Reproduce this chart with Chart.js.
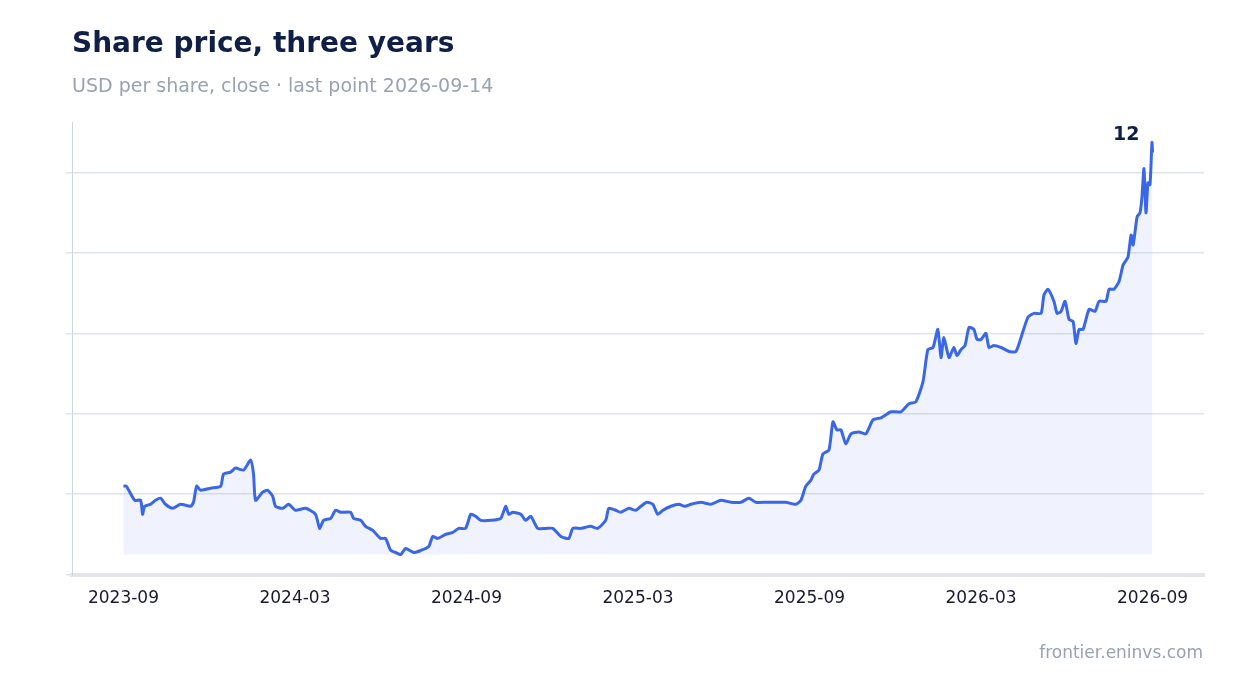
<!DOCTYPE html>
<html><head><meta charset="utf-8">
<script src="https://cdn.jsdelivr.net/npm/chart.js@4"></script>
<style>
html,body{margin:0;padding:0;background:#fff;font-family:"DejaVu Sans",sans-serif;}
#wrap{position:relative;width:1234px;height:693px;}
#c{position:absolute;left:0;top:0;}
#foot{position:absolute;right:31px;top:642px;color:#98a2b3;font-size:17px;}
</style></head><body>
<div id="wrap"><canvas id="c" width="1234" height="693"></canvas><div id="foot">frontier.eninvs.com</div></div>
<script>
// months since 2023-09-01
const months = [0,0.1,0.39,0.6,0.67,0.74,0.95,1.12,1.3,1.47,1.72,2.0,2.35,2.45,2.56,2.7,3.05,3.4,3.5,3.75,3.92,4.2,4.45,4.55,4.62,4.87,5.04,5.22,5.32,5.57,5.78,6.02,6.37,6.72,6.86,7.0,7.25,7.42,7.6,7.95,8.05,8.3,8.47,8.72,9.0,9.17,9.35,9.52,9.7,9.87,10.15,10.4,10.68,10.82,10.99,11.27,11.52,11.73,11.97,12.15,12.32,12.5,12.85,13.2,13.37,13.48,13.62,13.9,14.07,14.25,14.49,14.77,15.02,15.3,15.58,15.72,16.0,16.35,16.59,16.87,16.98,17.22,17.4,17.68,17.92,18.1,18.31,18.52,18.69,18.87,19.15,19.43,19.64,19.85,20.2,20.55,20.9,21.25,21.6,21.88,22.12,22.47,22.82,23.17,23.52,23.7,23.87,24.05,24.15,24.33,24.47,24.68,24.82,24.96,25.1,25.27,25.45,25.73,25.97,26.22,26.5,26.85,27.2,27.48,27.72,27.97,28.14,28.32,28.49,28.6,28.7,28.88,29.05,29.16,29.3,29.44,29.58,29.75,29.86,30.0,30.17,30.28,30.45,30.7,30.98,31.22,31.4,31.64,31.85,32.1,32.2,32.34,32.55,32.66,32.8,32.94,33.08,33.22,33.32,33.43,33.57,33.78,33.99,34.13,34.37,34.48,34.65,34.83,34.97,35.14,35.25,35.32,35.46,35.56,35.63,35.7,35.77,35.84,35.91,35.98,36.0];
const prices = [4.2,4.2,3.85,3.85,3.5,3.7,3.75,3.85,3.9,3.75,3.65,3.75,3.7,3.8,4.2,4.1,4.15,4.2,4.5,4.55,4.65,4.6,4.85,4.5,3.85,4.05,4.1,3.95,3.7,3.65,3.75,3.6,3.65,3.5,3.15,3.35,3.4,3.6,3.55,3.55,3.4,3.35,3.2,3.1,2.9,2.9,2.6,2.55,2.5,2.65,2.55,2.6,2.7,2.95,2.9,3.0,3.05,3.15,3.15,3.5,3.45,3.35,3.35,3.4,3.7,3.5,3.55,3.5,3.35,3.45,3.15,3.15,3.15,2.95,2.9,3.15,3.15,3.2,3.15,3.35,3.65,3.6,3.55,3.65,3.6,3.7,3.8,3.75,3.5,3.6,3.7,3.75,3.7,3.75,3.8,3.75,3.85,3.8,3.8,3.9,3.8,3.8,3.8,3.8,3.75,3.85,4.2,4.35,4.5,4.6,5.0,5.1,5.8,5.6,5.6,5.25,5.5,5.55,5.5,5.85,5.9,6.05,6.05,6.25,6.3,6.8,7.6,7.65,8.1,7.4,7.9,7.4,7.65,7.45,7.6,7.7,8.15,8.1,7.85,7.85,8.0,7.65,7.7,7.65,7.55,7.55,7.9,8.4,8.5,8.5,8.95,9.1,8.8,8.5,8.55,8.8,8.35,8.3,7.75,8.1,8.1,8.6,8.55,8.8,8.8,9.1,9.1,9.3,9.7,9.9,10.45,10.2,10.9,11.0,11.4,12.1,11.0,11.75,11.7,12.75,12.5];
const tickMonths = [0,6,12,18,24,30,36];
const tickLabels = ["2023-09","2024-03","2024-09","2025-03","2025-09","2026-03","2026-09"];
const yTicks = [2,4,6,8,10,12];
const lastLabel = "12";

const pts = months.map((m,i)=>({x:m,y:prices[i]}));
const minP = Math.min(...prices);
const lastLbl = {id:'lastLbl',afterDatasetsDraw(ch){
  const xs=ch.scales.x, ys=ch.scales.y, p=pts[pts.length-1];
  const c=ch.ctx; c.save(); c.font='bold 19px "DejaVu Sans"'; c.fillStyle='#0f1f45';
  c.textAlign='right'; c.textBaseline='bottom';
  c.fillText(lastLabel, xs.getPixelForValue(p.x)-13, ys.getPixelForValue(p.y)-8); c.restore();
}};
new Chart(document.getElementById('c'),{
  type:'line',
  data:{datasets:[{data:pts,borderColor:'#3a66e8',borderWidth:3,pointRadius:0,tension:0.2,
    fill:{value:minP},backgroundColor:'rgba(58,102,232,0.08)'}]},
  options:{responsive:false,animation:false,
    layout:{padding:{left:72,right:30,top:10,bottom:76}},
    plugins:{legend:{display:false},tooltip:{enabled:false},
      title:{display:true,text:'Share price, three years',align:'start',color:'#0f1f45',
        font:{family:'DejaVu Sans',size:28,weight:'bold'},padding:{top:18,bottom:14}},
      subtitle:{display:true,text:'USD per share, close · last point 2026-09-14',align:'start',color:'#98a2b3',
        font:{family:'DejaVu Sans',size:19},padding:{bottom:24}}},
    scales:{
      x:{type:'linear',min:-1.8,max:37.8,
        afterBuildTicks(s){s.ticks=tickMonths.map(v=>({value:v}));},
        ticks:{callback:(v)=>tickLabels[tickMonths.indexOf(v)],color:'#1a1a2e',font:{family:'DejaVu Sans',size:17},padding:8,maxRotation:0},
        grid:{display:false,drawTicks:true,tickLength:6},
        border:{color:'#e3e5ea',width:4}},
      y:{min:2,max:13.25,
        afterBuildTicks(s){s.ticks=yTicks.map(v=>({value:v}));},
        afterFit(s){s.width=0;},
        ticks:{color:'#1a1a2e',font:{family:'DejaVu Sans',size:19},padding:6},
        grid:{color:'#dfe3ef',lineWidth:1.5,drawTicks:true,tickLength:6},
        border:{color:'#d0d4dc',width:1}}
    }},
  plugins:[lastLbl]
});
</script></body></html>
